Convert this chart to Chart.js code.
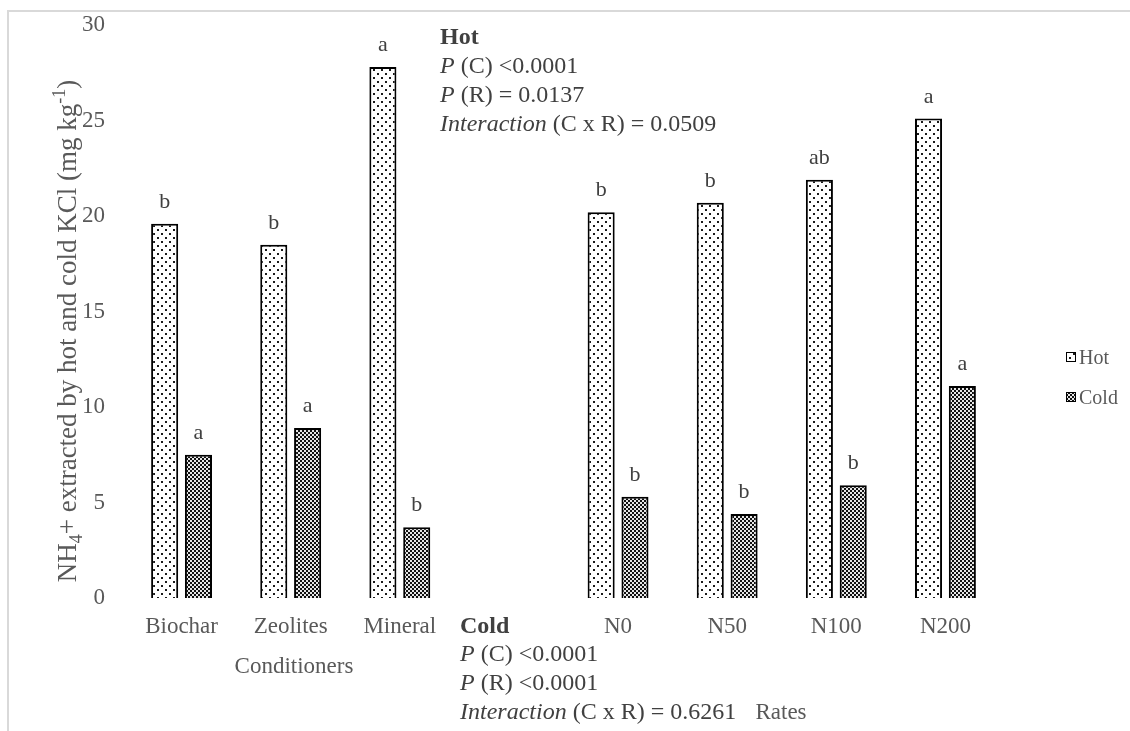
<!DOCTYPE html>
<html>
<head>
<meta charset="utf-8">
<script src="https://cdn.jsdelivr.net/npm/chart.js@4"></script>
<style>
  html, body { margin: 0; padding: 0; background: #fff; overflow: hidden; }
  #wrap { position: relative; width: 1130px; height: 731px; }
  #wrap canvas { position: absolute; left: 0; top: 0; }
  #frame { position: absolute; left: 7px; top: 10px; right: 0; bottom: 0;
           border-top: 2px solid #d9d9d9; border-left: 2px solid #d9d9d9; pointer-events: none; }
</style>
</head>
<body>
<div id="wrap">
  <canvas id="c" width="1130" height="731"></canvas>
  <div id="frame"></div>
</div>
<script>
// Categories: three conditioners, a spacer, then four N rates
const categories = ['Biochar', 'Zeolites', 'Mineral', '', 'N0', 'N50', 'N100', 'N200'];
const hotValues  = [19.6, 18.5, 27.8, null, 20.2, 20.7, 21.9, 25.1];
const coldValues = [7.5, 8.9, 3.7, null, 5.3, 4.4, 5.9, 11.1];
const hotLetters  = ['b', 'b', 'a', '', 'b', 'b', 'ab', 'a'];
const coldLetters = ['a', 'a', 'b', '', 'b', 'b', 'b', 'a'];
const yTicks = [0, 5, 10, 15, 20, 25, 30];
const seriesNames = ['Hot', 'Cold'];

const FONT = "'Liberation Serif', 'Times New Roman', serif";
const TXT = '#595959';
const DARK = '#404040';

// Dotted fill for hot extraction
function dotPattern() {
  const t = document.createElement('canvas');
  t.width = 8; t.height = 8;
  const g = t.getContext('2d');
  g.fillStyle = '#fff'; g.fillRect(0, 0, 8, 8);
  g.fillStyle = '#1a1a1a';
  g.fillRect(1, 1, 2, 2);
  g.fillRect(5, 5, 2, 2);
  return g.createPattern(t, 'repeat');
}
// Checkered fill for cold extraction
function checkPattern() {
  const t = document.createElement('canvas');
  t.width = 4; t.height = 4;
  const g = t.getContext('2d');
  g.fillStyle = '#e6e6e6'; g.fillRect(0, 0, 4, 4);
  g.fillStyle = '#111';
  g.fillRect(0, 0, 2, 2);
  g.fillRect(2, 2, 2, 2);
  return g.createPattern(t, 'repeat');
}

const hotFill = dotPattern();
const coldFill = checkPattern();

// Draw a line of mixed-style text runs starting at x
function drawRuns(ctx, x, y, runs, align) {
  let total = 0;
  runs.forEach(r => { ctx.font = `${r.style || ''} ${r.size}px ${FONT}`; total += ctx.measureText(r.text).width; });
  let cx = align === 'center' ? x - total / 2 : (align === 'right' ? x - total : x);
  runs.forEach(r => {
    ctx.font = `${r.style || ''} ${r.size}px ${FONT}`;
    ctx.textAlign = 'left';
    ctx.textBaseline = 'alphabetic';
    ctx.fillText(r.text, cx, y + (r.dy || 0));
    cx += ctx.measureText(r.text).width;
  });
}

const annotations = {
  id: 'annotations',
  afterDraw(chart) {
    const ctx = chart.ctx;
    ctx.save();

    // Significance letters above bars
    ctx.fillStyle = DARK;
    ctx.font = `22px ${FONT}`;
    ctx.textAlign = 'center';
    ctx.textBaseline = 'alphabetic';
    [hotLetters, coldLetters].forEach((letters, di) => {
      const meta = chart.getDatasetMeta(di);
      meta.data.forEach((bar, i) => {
        if (!letters[i]) return;
        ctx.fillText(letters[i], bar.x, bar.y - 16);
      });
    });

    // Y axis title with subscript and superscript
    ctx.save();
    ctx.translate(76, 331);
    ctx.rotate(-Math.PI / 2);
    ctx.fillStyle = TXT;
    drawRuns(ctx, 0, 0, [
      { text: 'NH', size: 27 },
      { text: '4', size: 18, dy: 6 },
      { text: '+ extracted by hot and cold KCl (mg kg', size: 27 },
      { text: '-1', size: 18, dy: -11 },
      { text: ')', size: 27 }
    ], 'center');
    ctx.restore();

    // Group labels under the categories
    ctx.fillStyle = TXT;
    drawRuns(ctx, 294, 673, [{ text: 'Conditioners', size: 23 }], 'center');
    drawRuns(ctx, 781, 719, [{ text: 'Rates', size: 23 }], 'center');

    // Statistics for hot extraction
    ctx.fillStyle = DARK;
    const hx = 440;
    drawRuns(ctx, hx, 44, [{ text: 'Hot', size: 24, style: 'bold' }]);
    drawRuns(ctx, hx, 73, [{ text: 'P', size: 24, style: 'italic' }, { text: ' (C) <0.0001', size: 24 }]);
    drawRuns(ctx, hx, 102, [{ text: 'P', size: 24, style: 'italic' }, { text: ' (R) = 0.0137', size: 24 }]);
    drawRuns(ctx, hx, 131, [{ text: 'Interaction', size: 24, style: 'italic' }, { text: ' (C x R) = 0.0509', size: 24 }]);

    // Statistics for cold extraction
    const cx = 460;
    drawRuns(ctx, cx, 633, [{ text: 'Cold', size: 24, style: 'bold' }]);
    drawRuns(ctx, cx, 661, [{ text: 'P', size: 24, style: 'italic' }, { text: ' (C) <0.0001', size: 24 }]);
    drawRuns(ctx, cx, 690, [{ text: 'P', size: 24, style: 'italic' }, { text: ' (R) <0.0001', size: 24 }]);
    drawRuns(ctx, cx, 719, [{ text: 'Interaction', size: 24, style: 'italic' }, { text: ' (C x R) = 0.6261', size: 24 }]);

    // Legend
    const fills = [hotFill, coldFill];
    const ly = [357, 397];
    chart.data.datasets.forEach((ds, i) => {
      const bx = 1066, by = ly[i] - 5;
      ctx.fillStyle = fills[i];
      ctx.fillRect(bx, by, 10, 10);
      ctx.strokeStyle = '#000';
      ctx.lineWidth = 1;
      ctx.strokeRect(bx + 0.5, by + 0.5, 9, 9);
      ctx.fillStyle = TXT;
      drawRuns(ctx, 1079, ly[i] + 7, [{ text: ds.label, size: 20 }]);
    });

    ctx.restore();
  }
};

new Chart(document.getElementById('c'), {
  type: 'bar',
  data: {
    labels: categories,
    datasets: [
      { label: seriesNames[0], data: hotValues, backgroundColor: hotFill, borderColor: '#000', borderWidth: 2 },
      { label: seriesNames[1], data: coldValues, backgroundColor: coldFill, borderColor: '#000', borderWidth: 2 }
    ]
  },
  options: {
    responsive: false,
    animation: false,
    devicePixelRatio: 1,
    layout: { padding: { left: 0, right: 130, top: 25, bottom: 0 } },
    datasets: { bar: { categoryPercentage: 0.62, barPercentage: 0.8 } },
    plugins: { legend: { display: false }, tooltip: { enabled: false } },
    scales: {
      x: {
        grid: { display: false, drawTicks: false },
        border: { display: false },
        ticks: { color: TXT, font: { family: FONT, size: 23 }, padding: 15, maxRotation: 0 },
        afterFit(scale) { scale.height = 133; scale.paddingLeft = 0; scale.paddingRight = 0; }
      },
      y: {
        min: 0, max: 30,
        grid: { display: false, drawTicks: false },
        border: { display: false },
        afterBuildTicks(scale) { scale.ticks = yTicks.map(v => ({ value: v })); },
        ticks: { color: TXT, font: { family: FONT, size: 23 }, padding: 22 },
        afterFit(scale) { scale.width = 127; scale.paddingTop = 0; scale.paddingBottom = 0; }
      }
    }
  },
  plugins: [annotations]
});
</script>
</body>
</html>
